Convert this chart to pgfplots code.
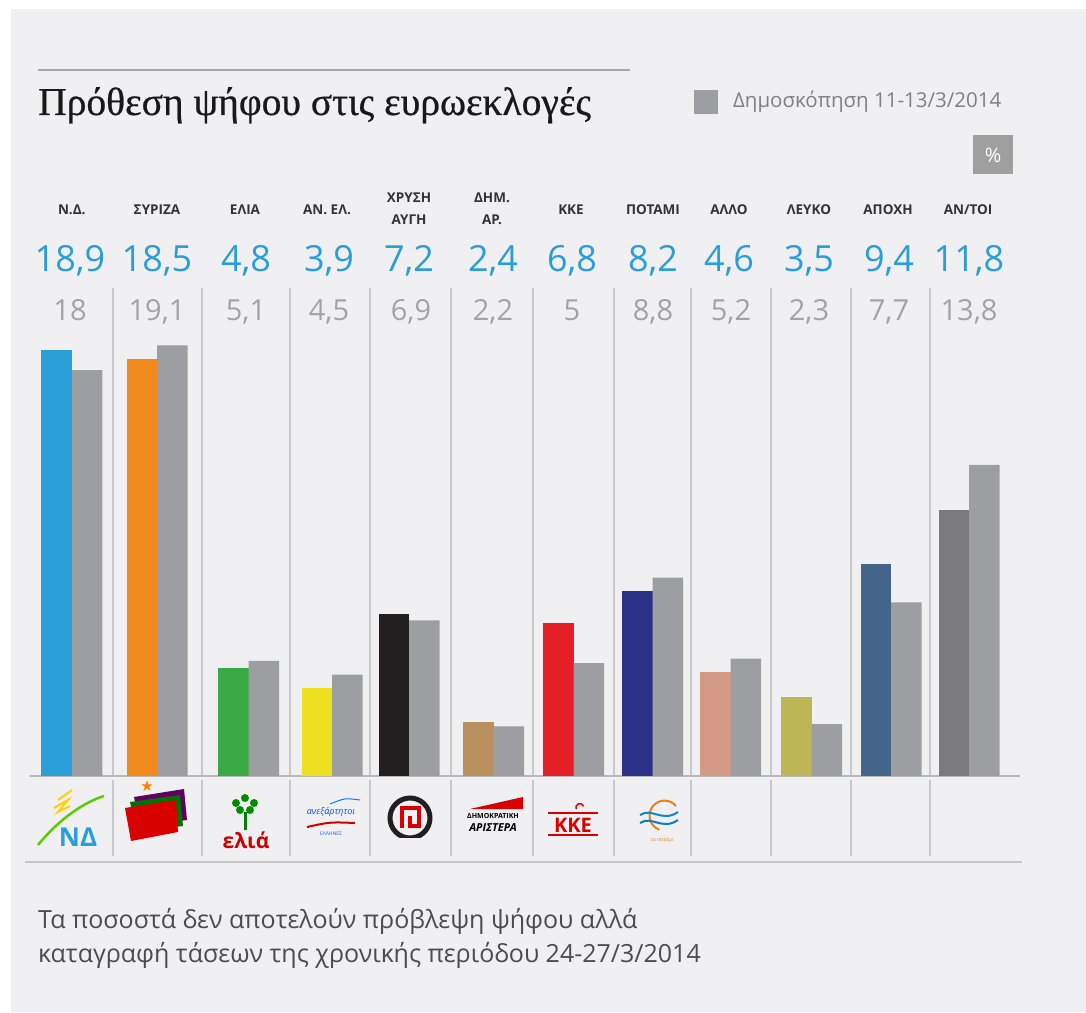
\documentclass[border=0pt]{standalone}
\usepackage{fontspec}
\setmainfont{Open Sans}
\newfontfamily\titlefont[FakeBold=0.6]{Liberation Serif}
\newfontfamily\symfont{DejaVu Sans}
\usepackage{pgfplots}
\pgfplotsset{compat=1.18}
\definecolor{bg}{HTML}{F0F0F2}
\definecolor{sep}{HTML}{C8C8CA}
\definecolor{gbar}{HTML}{9D9EA2}
\definecolor{vblue}{HTML}{2A9ED6}
\definecolor{vgrey}{HTML}{A3A3A5}
\definecolor{lab}{HTML}{333333}
\definecolor{cND}{HTML}{2A9FD8}
\definecolor{cSY}{HTML}{F08A1C}
\definecolor{cEL}{HTML}{3AAA45}
\definecolor{cAN}{HTML}{EDE020}
\definecolor{cXA}{HTML}{231F20}
\definecolor{cDA}{HTML}{B98F5E}
\definecolor{cKK}{HTML}{E31E24}
\definecolor{cPO}{HTML}{2B3187}
\definecolor{cAL}{HTML}{D59A85}
\definecolor{cLE}{HTML}{BDB556}
\definecolor{cAP}{HTML}{44658A}
\definecolor{cAT}{HTML}{7A7A7E}
\begin{document}
\begin{tikzpicture}
% background and frame lines (pixel coordinates, y downward)
\begin{scope}[x=1pt,y=-1pt,yshift=1012pt]
  \fill[white] (0,0) rectangle (1086,1012);
  \fill[bg] (11,9) rectangle (1086,1012);
  \draw[gray!70, line width=2pt] (38,70) -- (630,70);
  \foreach \s in {113,202,290,370,451,533,614,691,771,851,930}{
    \draw[sep, line width=1.5pt] (\s,288) -- (\s,776);
    \draw[sep, line width=1.5pt] (\s,780) -- (\s,856);
  }
  \draw[gray!55, line width=1.5pt] (30,776) -- (1020,776);
  \draw[gray!45, line width=1.5pt] (25,862) -- (1022,862);
\end{scope}
\begin{axis}[at={(0,0)}, anchor=south west,
  width=1086pt, height=1012pt, scale only axis,
  xmin=0, xmax=1086, ymin=-10.466, ymax=34.412,
  axis lines=none, ticks=none, clip=false,
  ybar, bar width=30.5pt]
  % colored bars: current poll 24-27/3/2014
  \addplot[fill=cND, draw=none, bar shift=-15.25pt] coordinates {(71.8,18.9)};
  \addplot[fill=cSY, draw=none, bar shift=-15.25pt] coordinates {(157,18.5)};
  \addplot[fill=cEL, draw=none, bar shift=-15.25pt] coordinates {(248.6,4.8)};
  \addplot[fill=cAN, draw=none, bar shift=-15.25pt] coordinates {(332,3.9)};
  \addplot[fill=cXA, draw=none, bar shift=-15.25pt] coordinates {(409,7.2)};
  \addplot[fill=cDA, draw=none, bar shift=-15.25pt] coordinates {(493.6,2.4)};
  \addplot[fill=cKK, draw=none, bar shift=-15.25pt] coordinates {(573.6,6.8)};
  \addplot[fill=cPO, draw=none, bar shift=-15.25pt] coordinates {(652.7,8.2)};
  \addplot[fill=cAL, draw=none, bar shift=-15.25pt] coordinates {(730.7,4.6)};
  \addplot[fill=cLE, draw=none, bar shift=-15.25pt] coordinates {(811.7,3.5)};
  \addplot[fill=cAP, draw=none, bar shift=-15.25pt] coordinates {(891,9.4)};
  \addplot[fill=cAT, draw=none, bar shift=-15.25pt] coordinates {(969,11.8)};
  % grey bars: poll 11-13/3/2014
  \addplot[fill=gbar, draw=none, bar shift=15.25pt] coordinates {
    (71.8,18) (157,19.1) (248.6,5.1) (332,4.5) (409,6.9) (493.6,2.2)
    (573.6,5) (652.7,8.8) (730.7,5.2) (811.7,2.3) (891,7.7) (969,13.8)};
\end{axis}
\begin{scope}[x=1pt,y=-1pt,yshift=1012pt]
  % title
  \node[anchor=base west, inner sep=0pt, text=black!90, font=\titlefont\fontsize{39.5}{40}\selectfont] at (38,115) {Πρόθεση ψήφου στις ευρωεκλογές};
  % legend
  \fill[gbar] (694,90) rectangle (718,114);
  \node[anchor=west, inner sep=0pt, text=gray, font=\fontsize{20.5}{21}\selectfont] at (733,102) {Δημοσκόπηση 11-13/3/2014};
  \fill[gray!75] (973,135) rectangle (1013,174);
  \node[text=white, font=\fontsize{20}{20}\selectfont] at (993,155) {\%};
  % category labels
  \begin{scope}[every node/.style={text=lab, font=\bfseries\fontsize{13.5}{15}\selectfont, anchor=base}]
    \node at (71.8,215) {Ν.Δ.};
    \node at (157,215) {ΣΥΡΙΖΑ};
    \node at (245,215) {ΕΛΙΑ};
    \node at (327,215) {ΑΝ. ΕΛ.};
    \node at (409,203) {ΧΡΥΣΗ};
    \node at (409,225) {ΑΥΓΗ};
    \node at (492,203) {ΔΗΜ.};
    \node at (492,225) {ΑΡ.};
    \node at (571,215) {ΚΚΕ};
    \node at (653,215) {ΠΟΤΑΜΙ};
    \node at (729,215) {ΑΛΛΟ};
    \node at (809,215) {ΛΕΥΚΟ};
    \node at (888,215) {ΑΠΟΧΗ};
    \node at (968,215) {ΑΝ/ΤΟΙ};
  \end{scope}
  % current values
  \begin{scope}[every node/.style={text=vblue, font=\fontsize{36}{36}\selectfont, anchor=base}]
    \node at (70,272) {18,9};
    \node at (157,272) {18,5};
    \node at (246,272) {4,8};
    \node at (329,272) {3,9};
    \node at (409,272) {7,2};
    \node at (493,272) {2,4};
    \node at (572,272) {6,8};
    \node at (653,272) {8,2};
    \node at (729,272) {4,6};
    \node at (809,272) {3,5};
    \node at (889,272) {9,4};
    \node at (969,272) {11,8};
  \end{scope}
  % previous values
  \begin{scope}[every node/.style={text=vgrey, font=\fontsize{29}{29}\selectfont, anchor=base}]
    \node at (70,321) {18};
    \node at (157,321) {19,1};
    \node at (246,321) {5,1};
    \node at (329,321) {4,5};
    \node at (411,321) {6,9};
    \node at (493,321) {2,2};
    \node at (572,321) {5};
    \node at (653,321) {8,8};
    \node at (731,321) {5,2};
    \node at (809,321) {2,3};
    \node at (889,321) {7,7};
    \node at (969,321) {13,8};
  \end{scope}
  % simplified party logos
  % ND
  \draw[green!55!yellow!80!black, line width=2.5pt] (38,845) .. controls (60,818) and (85,802) .. (104,796);
  \draw[yellow!70!orange, line width=2pt] (58,800) -- (72,790) (54,808) -- (68,800) -- (58,812) -- (70,806);
  \node[text=cND, font=\bfseries\fontsize{26}{26}\selectfont] at (78,837) {ΝΔ};
  % SYRIZA
  \fill[violet!75!black] (134,797) -- (184,789) -- (187,820) -- (140,826) -- cycle;
  \fill[green!45!black] (130,802) -- (180,795) -- (183,826) -- (136,832) -- cycle;
  \fill[red!85!black] (125,808) -- (176,800) -- (178,832) -- (131,841) -- cycle;
  \node[text=orange, font=\symfont\fontsize{15}{15}\selectfont] at (147,786) {★};
  % ELIA
  \draw[green!50!black, line width=3pt] (245,812) -- (245,830);
  \foreach \cx/\cy in {236/803,245/798,254/803,240/810,250/810}{\fill[green!55!black] (\cx,\cy) circle (4pt);}
  \node[text=red!80!black, font=\bfseries\fontsize{21}{21}\selectfont] at (246,840) {ελιά};
  % ANEL
  \node[text=blue!70!cyan, font=\itshape\fontsize{9}{9}\selectfont] at (331,812) {ανεξάρτητοι};
  \draw[blue!50!cyan, line width=1pt] (330,804) .. controls (345,798) .. (360,800);
  \draw[red!80!black, line width=2pt] (307,827) .. controls (330,822) .. (355,823);
  \node[text=blue!60!cyan, font=\fontsize{5}{5}\selectfont] at (331,834) {ΕΛΛΗΝΕΣ};
  % XA
  \draw[cXA, line width=5pt] (410,818) circle (20pt);
  \fill[bg] (400,838) rectangle (420,845);
  \draw[red!85!black, line width=3.5pt] (402,828) -- (402,808) -- (419,808) -- (419,826) -- (410,826) -- (410,816);
  % DIMAR
  \fill[red!85!black] (470,809) -- (523,797) -- (523,809) -- cycle;
  \node[text=black, font=\bfseries\fontsize{7}{7}\selectfont] at (493,816) {ΔΗΜΟΚΡΑΤΙΚΗ};
  \node[text=black, font=\bfseries\itshape\fontsize{11}{11}\selectfont] at (493,828) {ΑΡΙΣΤΕΡΑ};
  % KKE
  \draw[red!85!black, line width=1.2pt] (548,813) -- (598,813) (548,835) -- (598,835);
  \node[text=red!85!black, font=\bfseries\fontsize{20}{20}\selectfont] at (573,825) {ΚΚΕ};
  \draw[red!85!black, line width=1.5pt] (576,809) arc (200:20:4pt);
  % POTAMI
  \draw[orange!70!brown, line width=2pt] (676,806) arc (40:250:15pt);
  \draw[cyan!70!blue, line width=2pt] (640,815) .. controls (652,807) and (662,823) .. (678,812);
  \draw[cyan!60!blue, line width=2pt] (640,823) .. controls (652,815) and (662,831) .. (678,820);
  \node[text=orange!70!brown, font=\fontsize{5}{5}\selectfont] at (662,840) {το ποτάμι};
  % footnote
  \node[anchor=base west, inner sep=0pt, text=black!70, font=\fontsize{25}{25}\selectfont] at (38,928) {Τα ποσοστά δεν αποτελούν πρόβλεψη ψήφου αλλά};
  \node[anchor=base west, inner sep=0pt, text=black!70, font=\fontsize{25}{25}\selectfont] at (38,962) {καταγραφή τάσεων της χρονικής περιόδου 24-27/3/2014};
\end{scope}
\end{tikzpicture}
\end{document}
